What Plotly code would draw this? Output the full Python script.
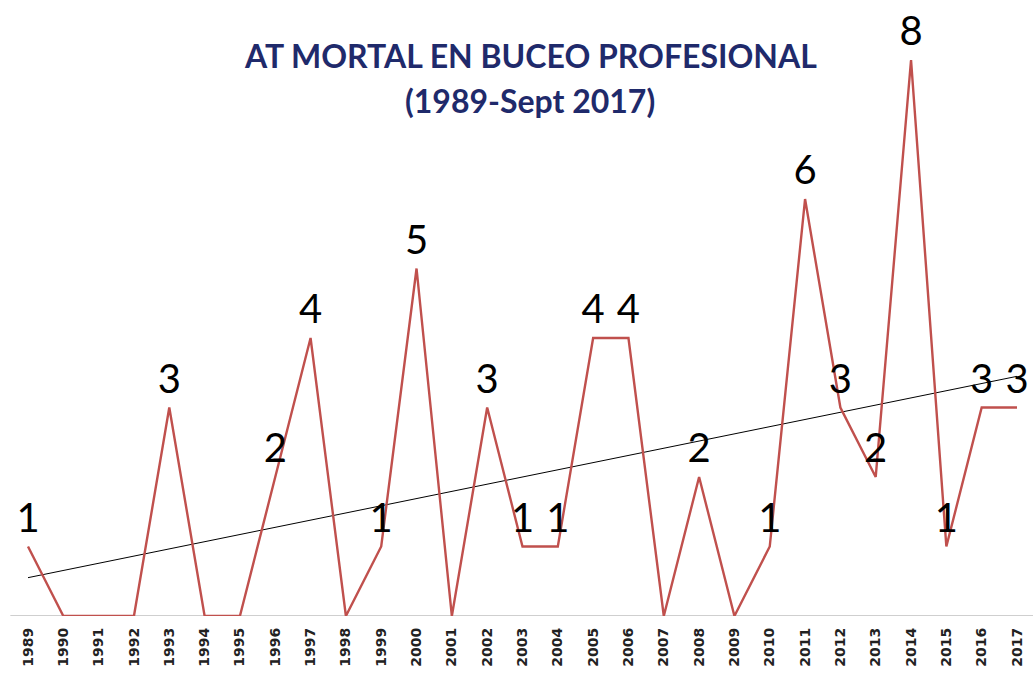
import numpy as np
import plotly.graph_objects as go

years = list(range(1989, 2018))
deaths = [1, 0, 0, 0, 3, 0, 0, 2, 4, 0, 1, 5, 0, 3, 1, 1, 4, 4, 0, 2, 0, 1, 6, 3, 2, 8, 1, 3, 3]
labels = [str(v) if v > 0 else "" for v in deaths]

title_line1 = "AT MORTAL EN BUCEO PROFESIONAL"
title_line2 = "(1989-Sept 2017)"

# linear trend of the data
slope, intercept = np.polyfit(years, deaths, 1)
trend_x = [years[0], years[-1]]
trend_y = [slope * x + intercept for x in trend_x]

fig = go.Figure()
fig.add_trace(go.Scatter(
    x=trend_x, y=trend_y, mode="lines",
    line=dict(color="black", width=1), hoverinfo="skip", showlegend=False,
))
fig.add_trace(go.Scatter(
    x=years, y=deaths, mode="lines+markers+text", text=labels,
    textposition="top center",
    textfont=dict(family="Lato", size=40, color="black"),
    marker=dict(size=6, color="rgba(0,0,0,0)"),
    line=dict(color="#C0504D", width=2.4),
    cliponaxis=False, showlegend=False,
))

# body margin removed via post_script, so figure coords = reference coords
W, H = 1033, 675
px_per_year = (1017 - 28) / 28
x0 = 1989 - 28 / px_per_year
x1 = 2017 + (W - 1017) / px_per_year
zero_px = 616
ymax = zero_px / 69.5

fig.update_layout(
    width=W, height=H,
    margin=dict(l=0, r=0, t=0, b=H - zero_px),
    paper_bgcolor="white", plot_bgcolor="white",
    xaxis=dict(
        range=[x0, x1], tickmode="array", tickvals=years,
        ticktext=[str(y) for y in years], tickangle=-90,
        tickfont=dict(family="DejaVu Sans", size=14, color="#222222", weight="bold"),
        ticklabelstandoff=8,
        showgrid=False, zeroline=False, showline=False, ticks="",
    ),
    yaxis=dict(range=[0, ymax], showgrid=False, zeroline=False, showticklabels=False,
               showline=False, ticks=""),
    shapes=[dict(type="line", xref="paper", yref="y", x0=0.01, x1=1, y0=0, y1=0,
                 line=dict(color="#BFBFBF", width=1.5), layer="below")],
    annotations=[
        dict(text=title_line1, xref="paper", yref="paper", x=530 / W,
             y=1 - 55 / zero_px,
             showarrow=False, xanchor="center", yanchor="middle",
             font=dict(family="Lato", size=32, color="#1F2A6B", weight="bold")),
        dict(text=title_line2, xref="paper", yref="paper", x=530 / W,
             y=1 - 100 / zero_px,
             showarrow=False, xanchor="center", yanchor="middle",
             font=dict(family="Lato", size=32, color="#1F2A6B", weight="bold")),
    ],
)

fig.write_html("out.html", config={"displayModeBar": False},
               post_script="document.body.style.margin='0';document.body.style.overflow='hidden';")
